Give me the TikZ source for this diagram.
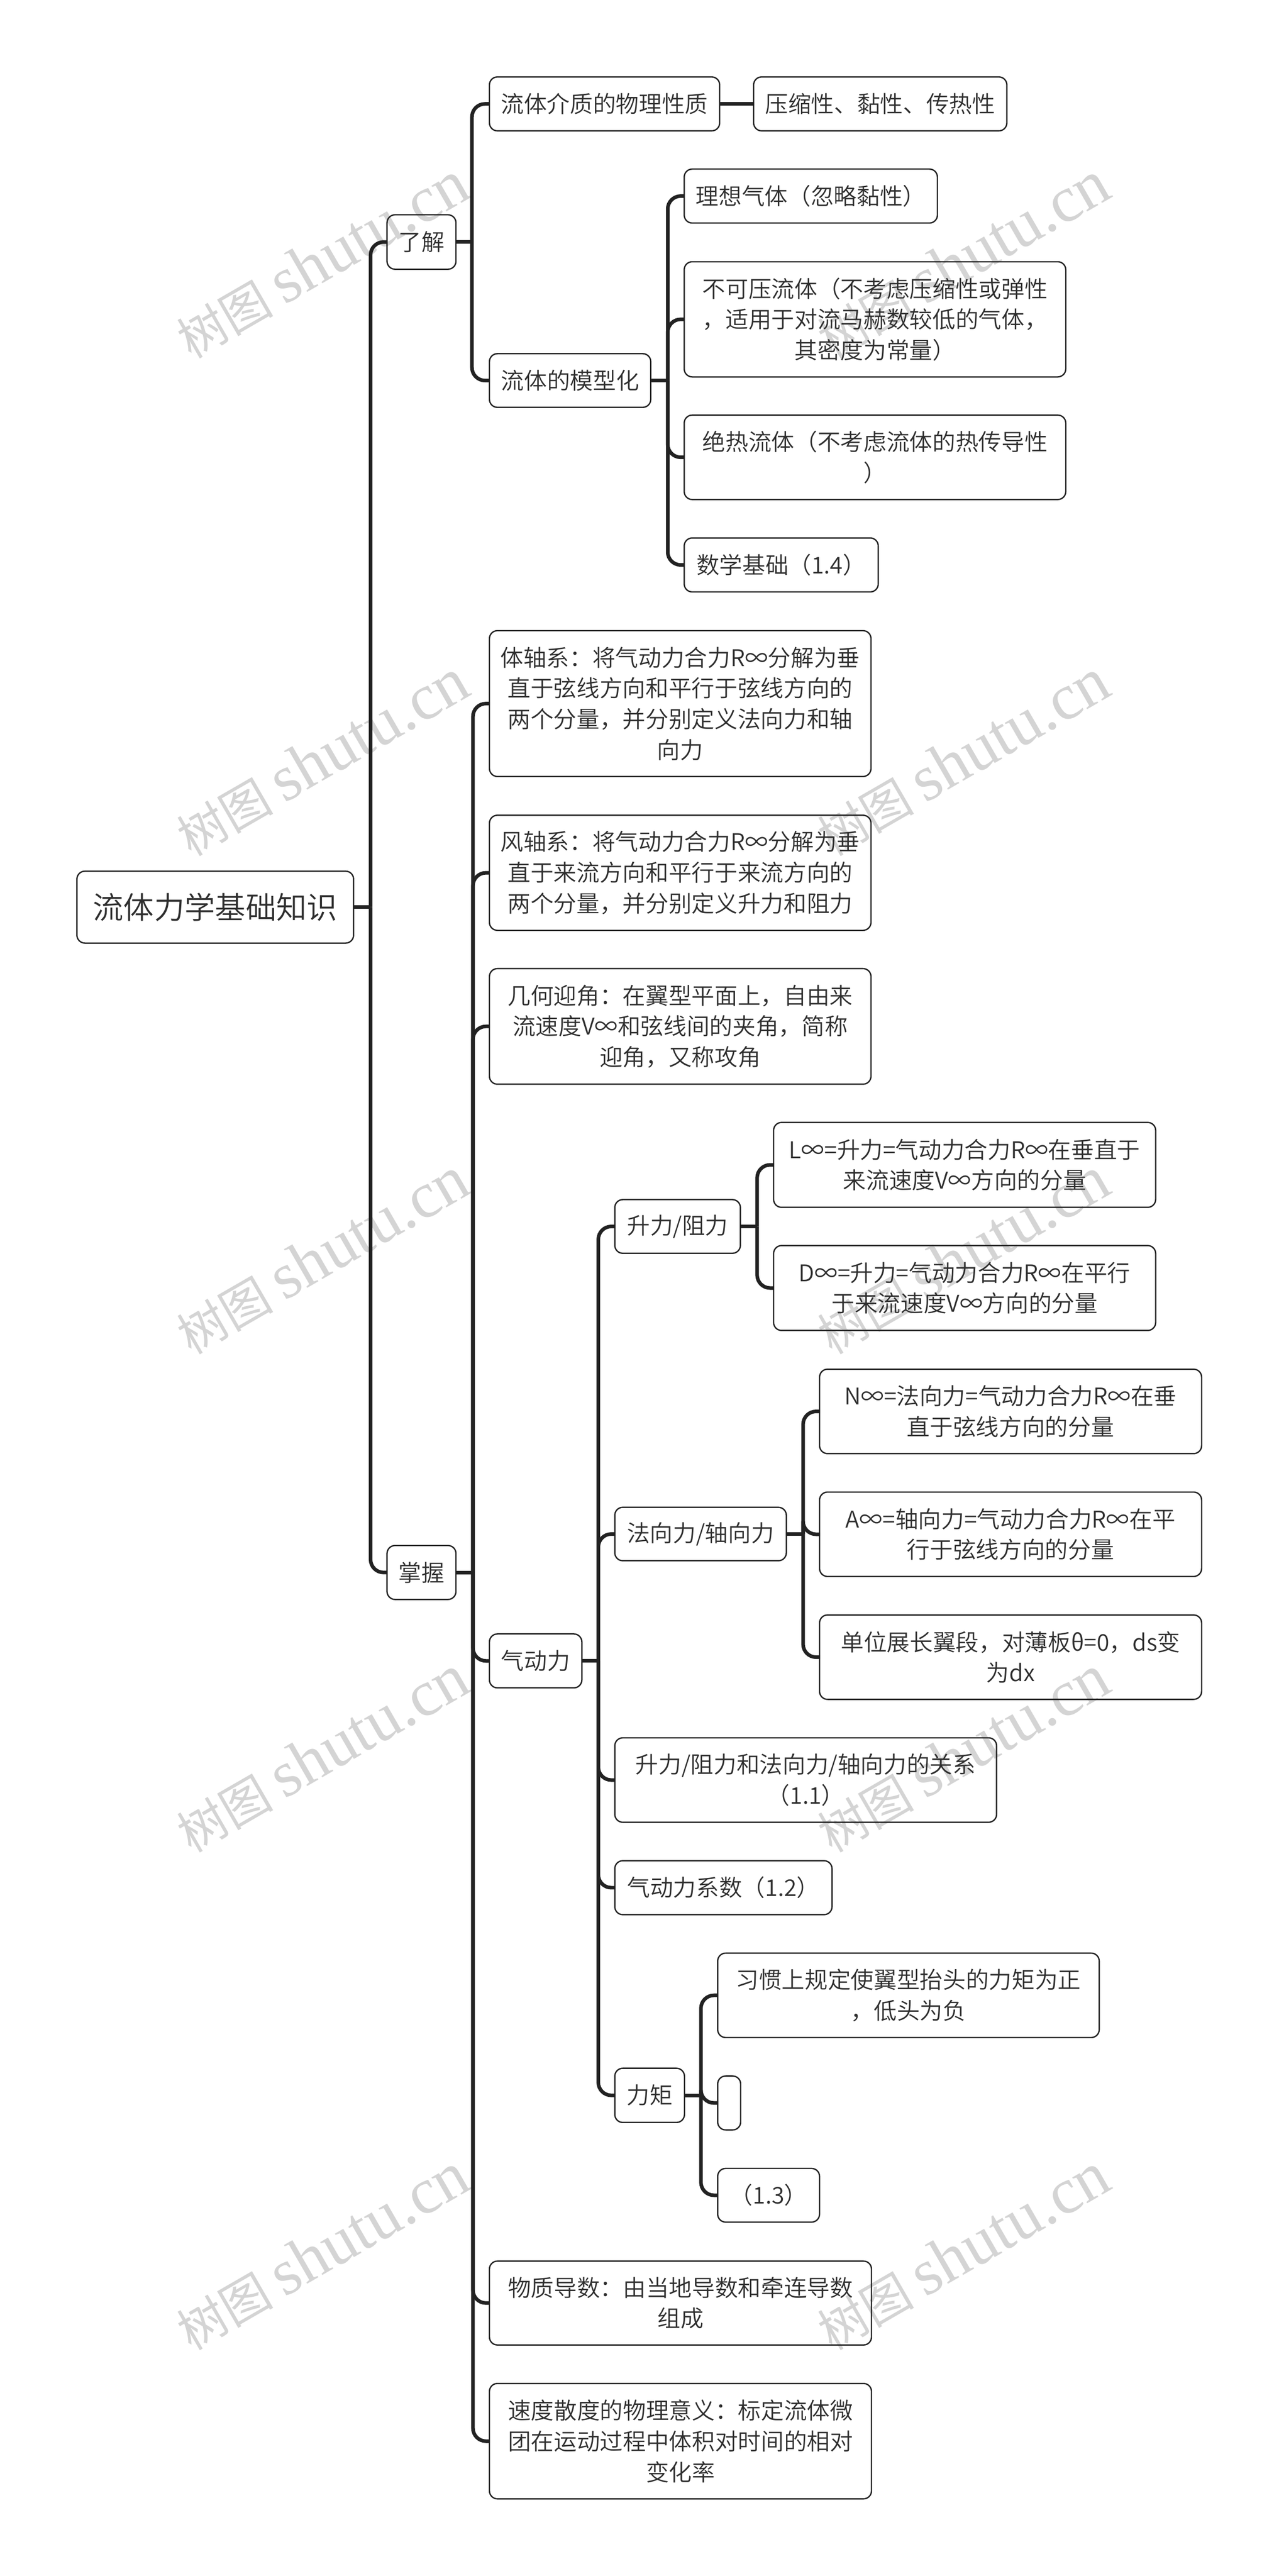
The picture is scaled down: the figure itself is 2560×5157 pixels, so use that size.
\documentclass[tikz,border=0pt]{standalone}
\usepackage{fontspec}
\setmainfont{Noto Sans CJK SC DemiLight}
\newfontfamily\wmlat{Liberation Serif}
\newfontfamily\wmcjk{Noto Sans CJK SC}
\definecolor{ink}{HTML}{2E2E2E}
\definecolor{linec}{HTML}{222222}
\definecolor{wmc}{HTML}{D4D4D4}
\tikzset{
  mnode/.style={draw=linec,line width=0.75pt,rounded corners=0.16cm,inner sep=0pt,outer sep=0pt,align=center,text=ink,font=\fontsize{13.1pt}{17.5pt}\selectfont},
  rootnode/.style={font=\fontsize{17.4pt}{22pt}\selectfont},
  conn/.style={draw=linec,line width=2.05pt},
  wm/.style={text=wmc,rotate=30,inner sep=0pt}
}
\newcommand{\wmtext}{{\wmcjk\fontsize{27.5pt}{32pt}\selectfont 树图}\hspace{0.22cm}{\wmlat\fontsize{37pt}{40pt}\selectfont shutu.cn}}
\newcommand{\bx}[7][]{%
  \pgfmathsetmacro\cx{(#3+#5)/2}\pgfmathsetmacro\cy{(#4+#6)/2}%
  \node[mnode,#1,minimum width={(#5-#3)*0.01cm},minimum height={(#6-#4)*0.01cm}] (#2) at (\cx,\cy) {#7};}
\newcommand{\lnk}[3]{%
  \draw[conn] (#1.east) -- (#2 |- #1.east);
  \draw[conn,rounded corners=0.26cm] (#2 |- #1.east) -- (#2 |- #3.west) -- (#3.west);}
\begin{document}
\begin{tikzpicture}[x=0.01cm,y=-0.01cm]
\useasboundingbox (0,0) rectangle (2560,5157);
\fill[white] (0,0) rectangle (2560,5157);
% watermarks
\foreach \r/\yy in {1/520,2/1517,3/2514,4/3511,5/4508}{
  \node[wm] (wl\r) at (645,\yy) {\wmtext};
  \node[wm] (wr\r) at (1928,\yy) {\wmtext};
}
% nodes
\bx[rootnode]{root}{154}{1744}{708}{1888}{流体力学基础知识}
\bx{liaojie}{775}{430}{913}{539}{了解}
\bx{zhangwo}{775}{3094}{913}{3202}{掌握}
\bx{jiezhi}{980}{154}{1441}{262}{流体介质的物理性质}
\bx{moxing}{980}{708}{1303}{815.5}{流体的模型化}
\bx{yasuo}{1509}{154}{2016}{262}{压缩性、黏性、传热性}
\bx{lixiang}{1370}{338.5}{1877}{446.5}{理想气体（忽略黏性）}
\bx{bukeya}{1370}{524}{2134}{754.5}{不可压流体（不考虑压缩性或弹性\\，适用于对流马赫数较低的气体，\\其密度为常量）}
\bx{juere}{1370}{831}{2134}{1000}{绝热流体（不考虑流体的热传导性\\）}
\bx{shuxue}{1370}{1077}{1758.5}{1185}{数学基础（1.4）}
\bx{tizhou}{980}{1262.5}{1744}{1554.5}{体轴系：将气动力合力R∞分解为垂\\直于弦线方向和平行于弦线方向的\\两个分量，并分别定义法向力和轴\\向力}
\bx{fengzhou}{980}{1632}{1744}{1862.5}{风轴系：将气动力合力R∞分解为垂\\直于来流方向和平行于来流方向的\\两个分量，并分别定义升力和阻力}
\bx{jihe}{980}{1939}{1744}{2170.5}{几何迎角：在翼型平面上，自由来\\流速度V∞和弦线间的夹角，简称\\迎角，又称攻角}
\bx{qidong}{980}{3271}{1165}{3379}{气动力}
\bx{shengli}{1231}{2401.5}{1482.5}{2509}{升力/阻力}
\bx{linf}{1549}{2247}{2314}{2417}{L∞=升力=气动力合力R∞在垂直于\\来流速度V∞方向的分量}
\bx{dinf}{1549}{2493.5}{2314}{2663.5}{D∞=升力=气动力合力R∞在平行\\于来流速度V∞方向的分量}
\bx{faxiang}{1231}{3017.5}{1574.5}{3124.5}{法向力/轴向力}
\bx{ninf}{1641}{2741}{2406}{2910}{N∞=法向力=气动力合力R∞在垂\\直于弦线方向的分量}
\bx{ainf}{1641}{2987}{2406}{3156}{A∞=轴向力=气动力合力R∞在平\\行于弦线方向的分量}
\bx{danwei}{1641}{3233}{2406}{3402}{单位展长翼段，对薄板θ=0，ds变\\为dx}
\bx{guanxi}{1231}{3479}{1995.5}{3648}{升力/阻力和法向力/轴向力的关系\\（1.1）}
\bx{xishu}{1231}{3725}{1666}{3833}{气动力系数（1.2）}
\bx{liju}{1231}{4140.5}{1370.5}{4249}{力矩}
\bx{xiguan}{1437}{3910}{2201}{4079}{习惯上规定使翼型抬头的力矩为正\\，低头为负}
\bx{kong}{1437}{4156}{1483}{4264}{}
\bx{yisan}{1437}{4341}{1641}{4448.5}{（1.3）}
\bx{wuzhi}{980}{4526.5}{1745}{4694.5}{物质导数：由当地导数和牵连导数\\组成}
\bx{sudu}{980}{4771.5}{1745}{5002.5}{速度散度的物理意义：标定流体微\\团在运动过程中体积对时间的相对\\变化率}
% spines
\coordinate (b0) at (742,0);
\coordinate (b1) at (945,0);
\coordinate (b2) at (1337,0);
\coordinate (b3) at (947,0);
\coordinate (b4) at (1198,0);
\coordinate (b5) at (1516,0);
\coordinate (b6) at (1608,0);
\coordinate (b7) at (1403.5,0);
% connectors
\lnk{root}{b0}{liaojie}
\lnk{root}{b0}{zhangwo}
\lnk{liaojie}{b1}{jiezhi}
\lnk{liaojie}{b1}{moxing}
\draw[conn] (jiezhi.east) -- (yasuo.west);
\lnk{moxing}{b2}{lixiang}
\lnk{moxing}{b2}{bukeya}
\lnk{moxing}{b2}{juere}
\lnk{moxing}{b2}{shuxue}
\lnk{zhangwo}{b3}{tizhou}
\lnk{zhangwo}{b3}{fengzhou}
\lnk{zhangwo}{b3}{jihe}
\lnk{zhangwo}{b3}{qidong}
\lnk{zhangwo}{b3}{wuzhi}
\lnk{zhangwo}{b3}{sudu}
\lnk{qidong}{b4}{shengli}
\lnk{qidong}{b4}{faxiang}
\lnk{qidong}{b4}{guanxi}
\lnk{qidong}{b4}{xishu}
\lnk{qidong}{b4}{liju}
\lnk{shengli}{b5}{linf}
\lnk{shengli}{b5}{dinf}
\lnk{faxiang}{b6}{ninf}
\lnk{faxiang}{b6}{ainf}
\lnk{faxiang}{b6}{danwei}
\lnk{liju}{b7}{xiguan}
\lnk{liju}{b7}{kong}
\lnk{liju}{b7}{yisan}
\end{tikzpicture}
\end{document}
